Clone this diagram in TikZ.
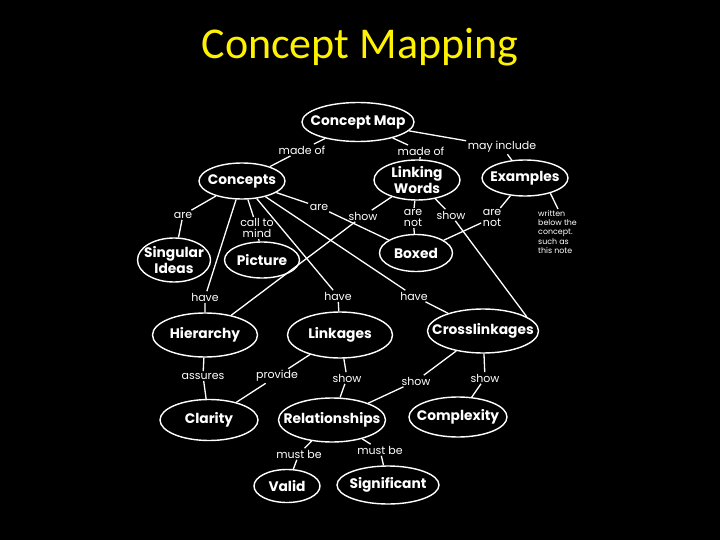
\documentclass[tikz,border=0pt]{standalone}
\usepackage{fontspec}
\setmainfont{Carlito}
\newfontfamily\pop{Poppins}
\usetikzlibrary{shapes.geometric}
\begin{document}
\begin{tikzpicture}[x=1pt,y=-1pt,
 cn/.style={ellipse,draw=white,line width=1.4pt,inner sep=0pt},
 ct/.style={text=white,font=\pop\bfseries\fontsize{13.8}{15.5}\selectfont,align=center,inner sep=0pt},
 lb/.style={text=white,font=\pop\fontsize{11}{10.5}\selectfont,align=center,inner sep=1.5pt},
 nt/.style={text=white,font=\pop\fontsize{7.9}{9.3}\selectfont,align=left,inner sep=0pt},
 ed/.style={draw=white,line width=1.3pt}]
\fill[black] (0,0) rectangle (720,540);
\node[text=yellow,font=\fontsize{44}{44}\selectfont] (title) at (360,47) {Concept Mapping};
% concept ellipses
\node[cn,minimum width=112pt,minimum height=39pt] (cm) at (358,122) {};
\node[cn,minimum width=86pt,minimum height=36pt] (cc) at (242,181) {};
\node[cn,minimum width=86pt,minimum height=40pt] (lw) at (417,180) {};
\node[cn,minimum width=86pt,minimum height=36pt] (ex) at (525,178) {};
\node[cn,minimum width=73pt,minimum height=44pt] (si) at (174,260) {};
\node[cn,minimum width=75pt,minimum height=36pt] (pi) at (262,260) {};
\node[cn,minimum width=73pt,minimum height=37pt] (bx) at (416,253) {};
\node[cn,minimum width=105pt,minimum height=44pt] (hi) at (205,335) {};
\node[cn,minimum width=105pt,minimum height=46pt] (li) at (340,335) {};
\node[cn,minimum width=111pt,minimum height=44pt] (cl) at (483,331) {};
\node[cn,minimum width=98pt,minimum height=41pt] (ca) at (209,420) {};
\node[cn,minimum width=107pt,minimum height=44pt] (re) at (332,420) {};
\node[cn,minimum width=98pt,minimum height=40pt] (co) at (458,417) {};
\node[cn,minimum width=66pt,minimum height=33pt] (va) at (287,486) {};
\node[cn,minimum width=102pt,minimum height=38pt] (sg) at (388,485) {};
% concept texts
\node[ct] at (cm) {Concept Map};
\node[ct] at (cc) {Concepts};
\node[ct] at (lw) {Linking\\Words};
\node[ct] at (ex) {Examples};
\node[ct] at (si) {Singular\\Ideas};
\node[ct] at (pi) {Picture};
\node[ct] at (bx) {Boxed};
\node[ct] at (hi) {Hierarchy};
\node[ct] at (li) {Linkages};
\node[ct] at (cl) {Crosslinkages};
\node[ct] at (ca) {Clarity};
\node[ct] at (re) {Relationships};
\node[ct] at (co) {Complexity};
\node[ct] at (va) {Valid};
\node[ct] at (sg) {Significant};
% linking labels
\node[lb] (l1) at (302,150) {made of};
\node[lb] (l2) at (421,151) {made of};
\node[lb] (l3) at (502,147) {may include};
\node[lb] (l4) at (183,215) {are};
\node[lb] (l5) at (257,228) {call to\\mind};
\node[lb] (l6) at (319,207) {are};
\node[lb] (l7) at (363,216) {show};
\node[lb] (l8) at (413,218) {are\\not};
\node[lb] (l9) at (451,215) {show};
\node[lb] (l10) at (492,218) {are\\not};
\node[lb] (l11) at (205,297) {have};
\node[lb] (l12) at (338,296) {have};
\node[lb] (l13) at (414,296) {have};
\node[lb] (l14) at (203,376) {assures};
\node[lb] (l15) at (277,376) {provide};
\node[lb] (l16) at (347,378) {show};
\node[lb] (l17) at (416,381) {show};
\node[lb] (l18) at (485,378) {show};
\node[lb] (l19) at (299,454) {must be};
\node[lb] (l20) at (380,450) {must be};
\node[nt,anchor=north west] (note) at (538,210) {written\\below the\\concept.\\such as\\this note};
\coordinate (ntop) at (558,209);
% connectors
\draw[ed] (cm) -- (l1) -- (cc);
\draw[ed] (cm) -- (l2) -- (lw);
\draw[ed] (cm) -- (l3) -- (ex);
\draw[ed] (cc) -- (l4) -- (si);
\draw[ed] (cc) -- (l5) -- (pi);
\draw[ed] (cc) -- (l6) -- (bx);
\draw[ed] (cc) -- (l11) -- (hi);
\draw[ed] (cc) -- (l12) -- (li);
\draw[ed] (cc) -- (l13) -- (cl);
\draw[ed] (lw) -- (l7) -- (hi);
\draw[ed] (lw) -- (l8) -- (bx);
\draw[ed] (lw) -- (l9) -- (cl.18);
\draw[ed] (ex) -- (l10) -- (bx);
\draw[ed] (ex.-31) -- (ntop);
\draw[ed] (hi) -- (l14) -- (ca);
\draw[ed] (li) -- (l15) -- (ca);
\draw[ed] (li) -- (l16) -- (re);
\draw[ed] (cl) -- (l17) -- (re);
\draw[ed] (cl) -- (l18) -- (co);
\draw[ed] (re) -- (l19) -- (va);
\draw[ed] (re) -- (l20) -- (sg);
\end{tikzpicture}
\end{document}
